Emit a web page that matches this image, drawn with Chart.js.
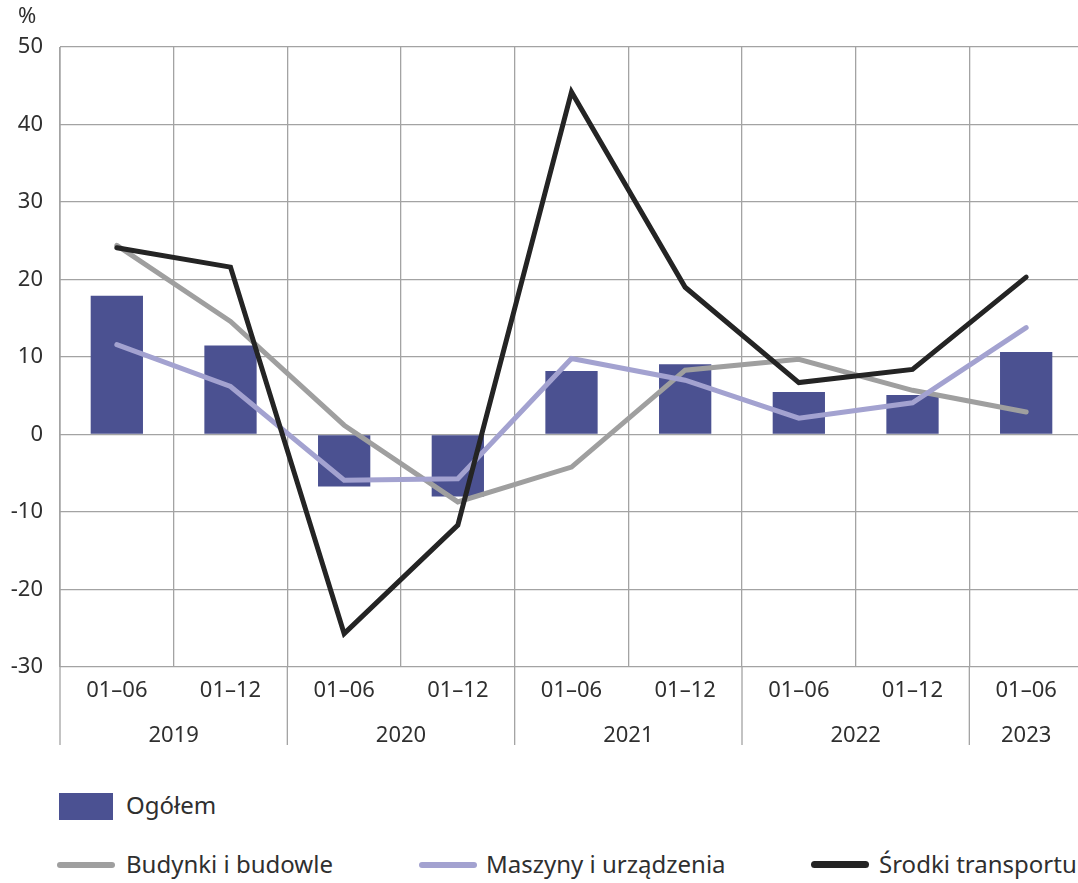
<!DOCTYPE html>
<html>
<head>
<meta charset="utf-8">
<script src="https://cdn.jsdelivr.net/npm/chart.js@4.4.0/dist/chart.umd.min.js"></script>
<style>
  html, body { margin: 0; padding: 0; background: #fff; overflow: hidden; width: 1078px; height: 883px; }
  #wrap { position: relative; width: 1078px; height: 883px; overflow: hidden; }
  canvas { position: absolute; left: 0; top: 0; }
  .lg { position: absolute; font-family: "Noto Sans", sans-serif; font-size: 24px; color: #2f2f2f; line-height: 28px; white-space: nowrap; }
  .sw { position: absolute; }
</style>
</head>
<body>
<div id="wrap">
  <canvas id="c" width="1090" height="770"></canvas>
  <div class="sw" style="left:59px;top:793px;width:54px;height:27px;background:#4b5192;"></div>
  <div class="lg" style="left:126px;top:791px;">Ogółem</div>
  <div class="sw" style="left:57px;top:862px;width:58px;height:6px;border-radius:3px;background:#9f9f9f;"></div>
  <div class="lg" style="left:126px;top:850px;">Budynki i budowle</div>
  <div class="sw" style="left:419px;top:862px;width:58px;height:6px;border-radius:3px;background:#a3a2d0;"></div>
  <div class="lg" style="left:486px;top:850px;">Maszyny i urządzenia</div>
  <div class="sw" style="left:811px;top:861px;width:58px;height:7px;border-radius:3.5px;background:#242424;"></div>
  <div class="lg" style="left:879px;top:850px;">Środki transportu</div>
</div>
<script>
const categories = ['01–06','01–12','01–06','01–12','01–06','01–12','01–06','01–12','01–06'];
const years = ['2019','2019','2020','2020','2021','2021','2022','2022','2023'];
const ogolem = [17.9, 11.5, -6.7, -8.0, 8.2, 9.05, 5.5, 5.1, 10.65];
const budynki = [24.4, 14.6, 1.2, -8.7, -4.2, 8.3, 9.7, 5.7, 2.9];
const maszyny = [11.6, 6.2, -5.9, -5.7, 9.8, 7.0, 2.1, 4.1, 13.8];
const srodki = [24.1, 21.6, -25.7, -11.7, 44.2, 19.0, 6.7, 8.4, 20.3];
const yMin = -30, yMax = 50, yStep = 10;
const unitLabel = '%';

const FONT = '"Noto Sans", sans-serif';
const TXT = '#2f2f2f';
const GRID = '#a3a3a3';

const yearPlugin = {
  id: 'yearPlugin',
  afterDraw(chart) {
    const ctx = chart.ctx;
    const xs = chart.scales.x;
    const area = chart.chartArea;
    const bottom = 745;
    ctx.save();
    ctx.strokeStyle = GRID;
    ctx.lineWidth = 1.3;
    ctx.beginPath();
    ctx.moveTo(area.left, area.top);
    ctx.lineTo(area.left, bottom);
    ctx.stroke();
    const groups = [];
    years.forEach((y, i) => {
      const g = groups[groups.length - 1];
      if (g && g.year === y) g.end = i; else groups.push({ year: y, start: i, end: i });
    });
    ctx.font = '22px ' + FONT;
    ctx.fillStyle = TXT;
    ctx.textAlign = 'center';
    ctx.textBaseline = 'middle';
    groups.forEach((g, gi) => {
      const cx = (xs.getPixelForValue(g.start) + xs.getPixelForValue(g.end)) / 2;
      ctx.fillText(g.year, cx, 736);
      if (gi > 0) {
        const sx = (xs.getPixelForValue(g.start - 1) + xs.getPixelForValue(g.start)) / 2;
        ctx.beginPath();
        ctx.moveTo(sx, area.bottom);
        ctx.lineTo(sx, bottom);
        ctx.stroke();
      }
    });
    ctx.textAlign = 'left';
    ctx.font = '22px ' + FONT;
    ctx.fillText(unitLabel, 18, 17);
    ctx.restore();
  }
};

new Chart(document.getElementById('c'), {
  type: 'bar',
  data: {
    labels: categories,
    datasets: [
      { type: 'bar', label: 'Ogółem', data: ogolem, backgroundColor: '#4b5191', barPercentage: 0.46, categoryPercentage: 1, order: 10 },
      { type: 'line', label: 'Budynki i budowle', data: budynki, borderColor: '#9f9f9f', borderWidth: 5, pointRadius: 0, tension: 0, borderCapStyle: 'round', borderJoinStyle: 'miter', order: 3 },
      { type: 'line', label: 'Maszyny i urządzenia', data: maszyny, borderColor: '#a3a2d0', borderWidth: 5, pointRadius: 0, tension: 0, borderCapStyle: 'round', borderJoinStyle: 'miter', order: 2 },
      { type: 'line', label: 'Środki transportu', data: srodki, borderColor: '#242424', borderWidth: 5, pointRadius: 0, tension: 0, borderCapStyle: 'round', borderJoinStyle: 'miter', order: 1 }
    ]
  },
  options: {
    responsive: false,
    animation: false,
    devicePixelRatio: 1,
    layout: { padding: { top: 47, right: 7, left: 0, bottom: 0 } },
    plugins: { legend: { display: false }, tooltip: { enabled: false } },
    scales: {
      x: {
        offset: true,
        grid: { offset: true, color: GRID, lineWidth: 1.3, drawTicks: false },
        border: { display: false },
        ticks: { color: TXT, font: { family: FONT, size: 22 }, padding: 11, maxRotation: 0, autoSkip: false },
        afterFit(scale) { scale.height = 103; }
      },
      y: {
        min: yMin, max: yMax,
        grid: { color: GRID, lineWidth: 1.3, drawTicks: false },
        border: { display: false },
        ticks: { stepSize: yStep, color: TXT, font: { family: FONT, size: 22 }, padding: 17 },
        afterFit(scale) { scale.width = 60; }
      }
    }
  },
  plugins: [yearPlugin]
});
</script>
</body>
</html>
